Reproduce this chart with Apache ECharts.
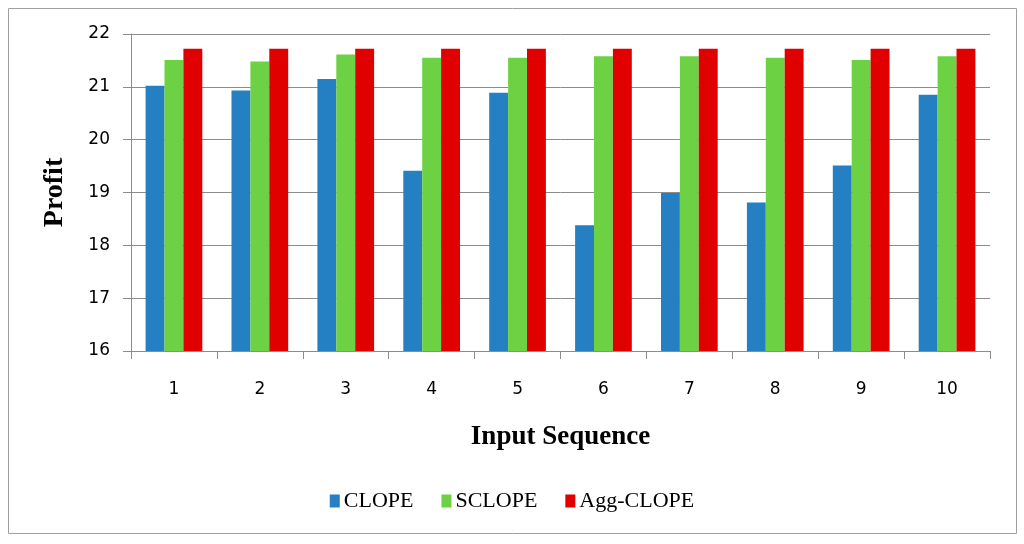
<!DOCTYPE html>
<html><head><meta charset="utf-8">
<script src="https://cdn.jsdelivr.net/npm/echarts@6/dist/echarts.min.js"></script>
<style>html,body{margin:0;padding:0;background:#fff}#c{width:1024px;height:544px}</style>
</head><body><div id="c"></div>
<script>
var categories = ['1','2','3','4','5','6','7','8','9','10'];
var clope  = [21.02, 20.93, 21.15, 19.41, 20.89, 18.38, 18.99, 18.81, 19.51, 20.85];
var sclope = [21.51, 21.48, 21.61, 21.55, 21.55, 21.58, 21.58, 21.55, 21.51, 21.58];
var agg    = [21.72, 21.72, 21.72, 21.72, 21.72, 21.72, 21.72, 21.72, 21.72, 21.72];
var seriesNames = ['CLOPE', 'SCLOPE', 'Agg-CLOPE'];
var colors = ['#2580C3', '#6DD144', '#E00000'];

var chart = echarts.init(document.getElementById('c'));
var axisGray = '#8c8c8c';
function bar(name, data, color) {
  return { name: name, type: 'bar', data: data, barGap: '0%', barCategoryGap: '34%',
           itemStyle: { color: color }, emphasis: { disabled: true } };
}
chart.setOption({
  animation: false,
  grid: { left: 131, right: 34, top: 34, bottom: 193, containLabel: false },
  graphic: [{ type: 'rect', shape: { x: 8.5, y: 8.5, width: 1008, height: 525 },
              style: { fill: 'none', stroke: '#a0a0a0', lineWidth: 1 } }],
  legend: {
    data: seriesNames, top: 485, left: 'center', itemWidth: 10, itemHeight: 13, itemGap: 28,
    icon: 'rect',
    textStyle: { fontFamily: 'Liberation Serif', fontSize: 22, color: '#000', padding: [0, 0, 0, -1] }
  },
  xAxis: {
    type: 'category', data: categories, boundaryGap: true,
    name: 'Input Sequence', nameLocation: 'middle', nameGap: 73,
    nameTextStyle: { fontFamily: 'Liberation Serif', fontWeight: 'bold', fontSize: 27, color: '#000' },
    axisLine: { lineStyle: { color: axisGray, width: 1 } },
    axisTick: { show: true, length: 8, alignWithLabel: false, lineStyle: { color: axisGray } },
    axisLabel: { fontFamily: 'DejaVu Sans', fontSize: 17, color: '#000', margin: 30 }
  },
  yAxis: {
    type: 'value', min: 16, max: 22, interval: 1,
    name: 'Profit', nameLocation: 'middle', nameGap: 62, nameRotate: 90,
    nameTextStyle: { fontFamily: 'Liberation Serif', fontWeight: 'bold', fontSize: 28, color: '#000' },
    axisLine: { show: true, lineStyle: { color: axisGray, width: 1 } },
    axisTick: { show: true, length: 8, lineStyle: { color: axisGray } },
    axisLabel: { fontFamily: 'DejaVu Sans', fontSize: 17, color: '#000', margin: 21 },
    splitLine: { lineStyle: { color: axisGray, width: 1 } }
  },
  series: [bar(seriesNames[0], clope, colors[0]), bar(seriesNames[1], sclope, colors[1]), bar(seriesNames[2], agg, colors[2])]
});
</script></body></html>
